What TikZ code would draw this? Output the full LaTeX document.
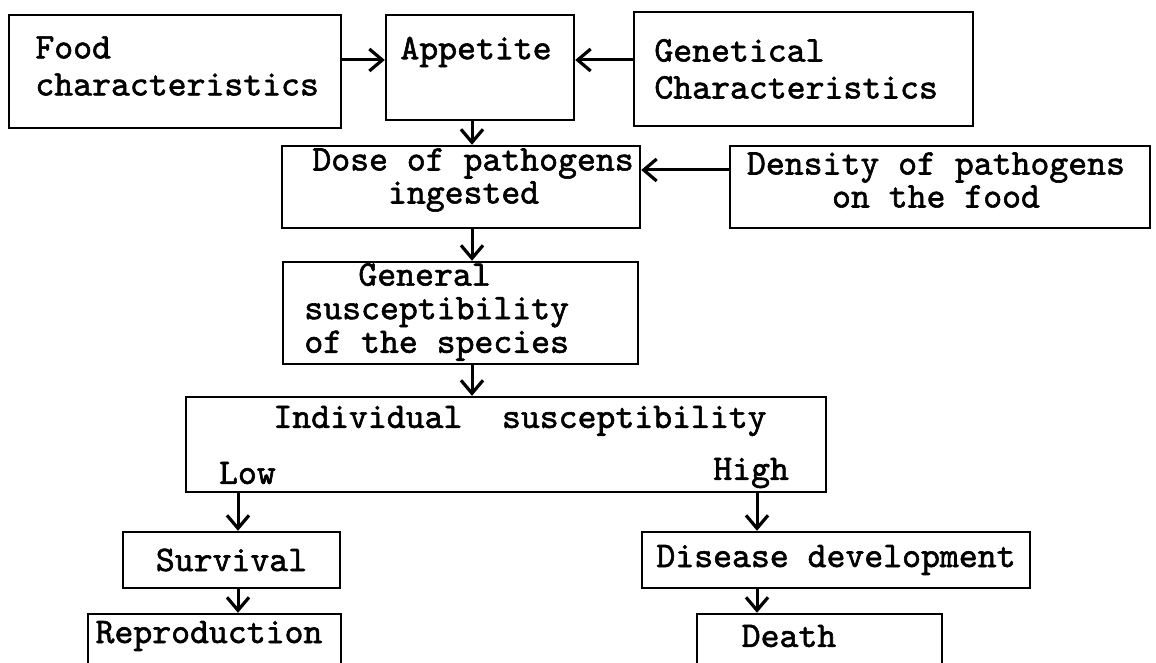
\documentclass[tikz,border=0pt]{standalone}
\usepackage{fontspec}
\setmonofont{lmmono10-regular.otf}[AutoFakeBold=1.6]
\usetikzlibrary{arrows.meta,positioning,calc}

\begin{document}
\begin{tikzpicture}[x=0.5pt,y=-0.5pt,
  font=\ttfamily\bfseries\fontsize{18}{16.5}\selectfont,
  >={Straight Barb[length=6.5pt,width=11pt,line width=1.6pt]},
  box/.style={draw,line width=1.2pt,inner sep=0pt},
  txt/.style={inner sep=0pt,align=left},
  arr/.style={->,line width=1.5pt}]
\clip (0,0) rectangle (1156,663);
% where the vertical arrows run
\coordinate (spine) at (472,0);
\coordinate (lowx) at (238,0);
\coordinate (highx) at (757,0);
% top row
\node[box,minimum width=166pt,minimum height=56.5pt] (food) at (175,71.5) {};
\node[txt,anchor=west] (foodtxt) at (35,66) {Food\\[2pt]characteristics};
\node[box,minimum width=94pt,minimum height=52.5pt] (app) at (480,67.5) {};
\node (apptxt) at (476,52) {Appetite};
\node[box,minimum width=169.5pt,minimum height=57pt] (gen) at (803.5,69) {};
\node[txt,anchor=west] (gentxt) at (654,69) {Genetical\\[2pt]Characteristics};
\draw[arr] (food.east |- 0,60) -- (app.west |- 0,60);
\draw[arr] (gen.west |- 0,60) -- (app.east |- 0,60);
% dose and density
\node[box,minimum width=179pt,minimum height=41pt] (dose) at (461,187) {};
\node[txt,anchor=west] (dosetxt) at (312,180)
  {Dose of pathogens\\\hspace*{2.1em}ingested};
\node[box,minimum width=210pt,minimum height=41pt] (dens) at (940,187) {};
\node[align=center,inner sep=0pt] (denstxt) at (936,180) {Density of pathogens\\on the food};
\draw[arr] (dens.west |- 0,170) -- (dose.east |- 0,170);
\draw[arr] (app.south -| spine) -- (dose.north -| spine);
% susceptibility
\node[box,minimum width=177.5pt,minimum height=51pt] (gensus) at (460.5,313) {};
\node[txt,anchor=west] (gensustxt) at (304,312)
  {\hspace*{1.5em}General\\[0.3pt]susceptibility\\[0.3pt]of the species};
\draw[arr] (dose.south -| spine) -- (gensus.north -| spine);
\node[box,minimum width=320pt,minimum height=47.5pt] (indiv) at (506,444.5) {};
\node (indtxt) at (520,421) {Individual\hspace{1.1em}susceptibility};
\node[anchor=west] (low) at (212,473) {Low};
\node[anchor=east] (high) at (796,473) {High};
\draw[arr] (gensus.south -| spine) -- (indiv.north -| spine);
% outcomes
\node[box,minimum width=108.5pt,minimum height=28pt] (surv) at (231.5,560) {Survival};
\node[box,minimum width=194pt,minimum height=28pt] (dis) at (836,560) {Disease development};
\node[box,minimum width=126.5pt,minimum height=36pt] (repro) at (214.5,650) {};
\node[box,minimum width=122.5pt,minimum height=36pt] (death) at (819.5,650) {};
\node (reprotxt) at (209,636) {Reproduction};
\node (deathtxt) at (789,636) {Death};
\draw[arr] (indiv.south -| lowx) -- (surv.north -| lowx);
\draw[arr] (indiv.south -| highx) -- (dis.north -| highx);
\draw[arr] (surv.south -| lowx) -- (repro.north -| lowx);
\draw[arr] (dis.south -| highx) -- (death.north -| highx);
\end{tikzpicture}
\end{document}
